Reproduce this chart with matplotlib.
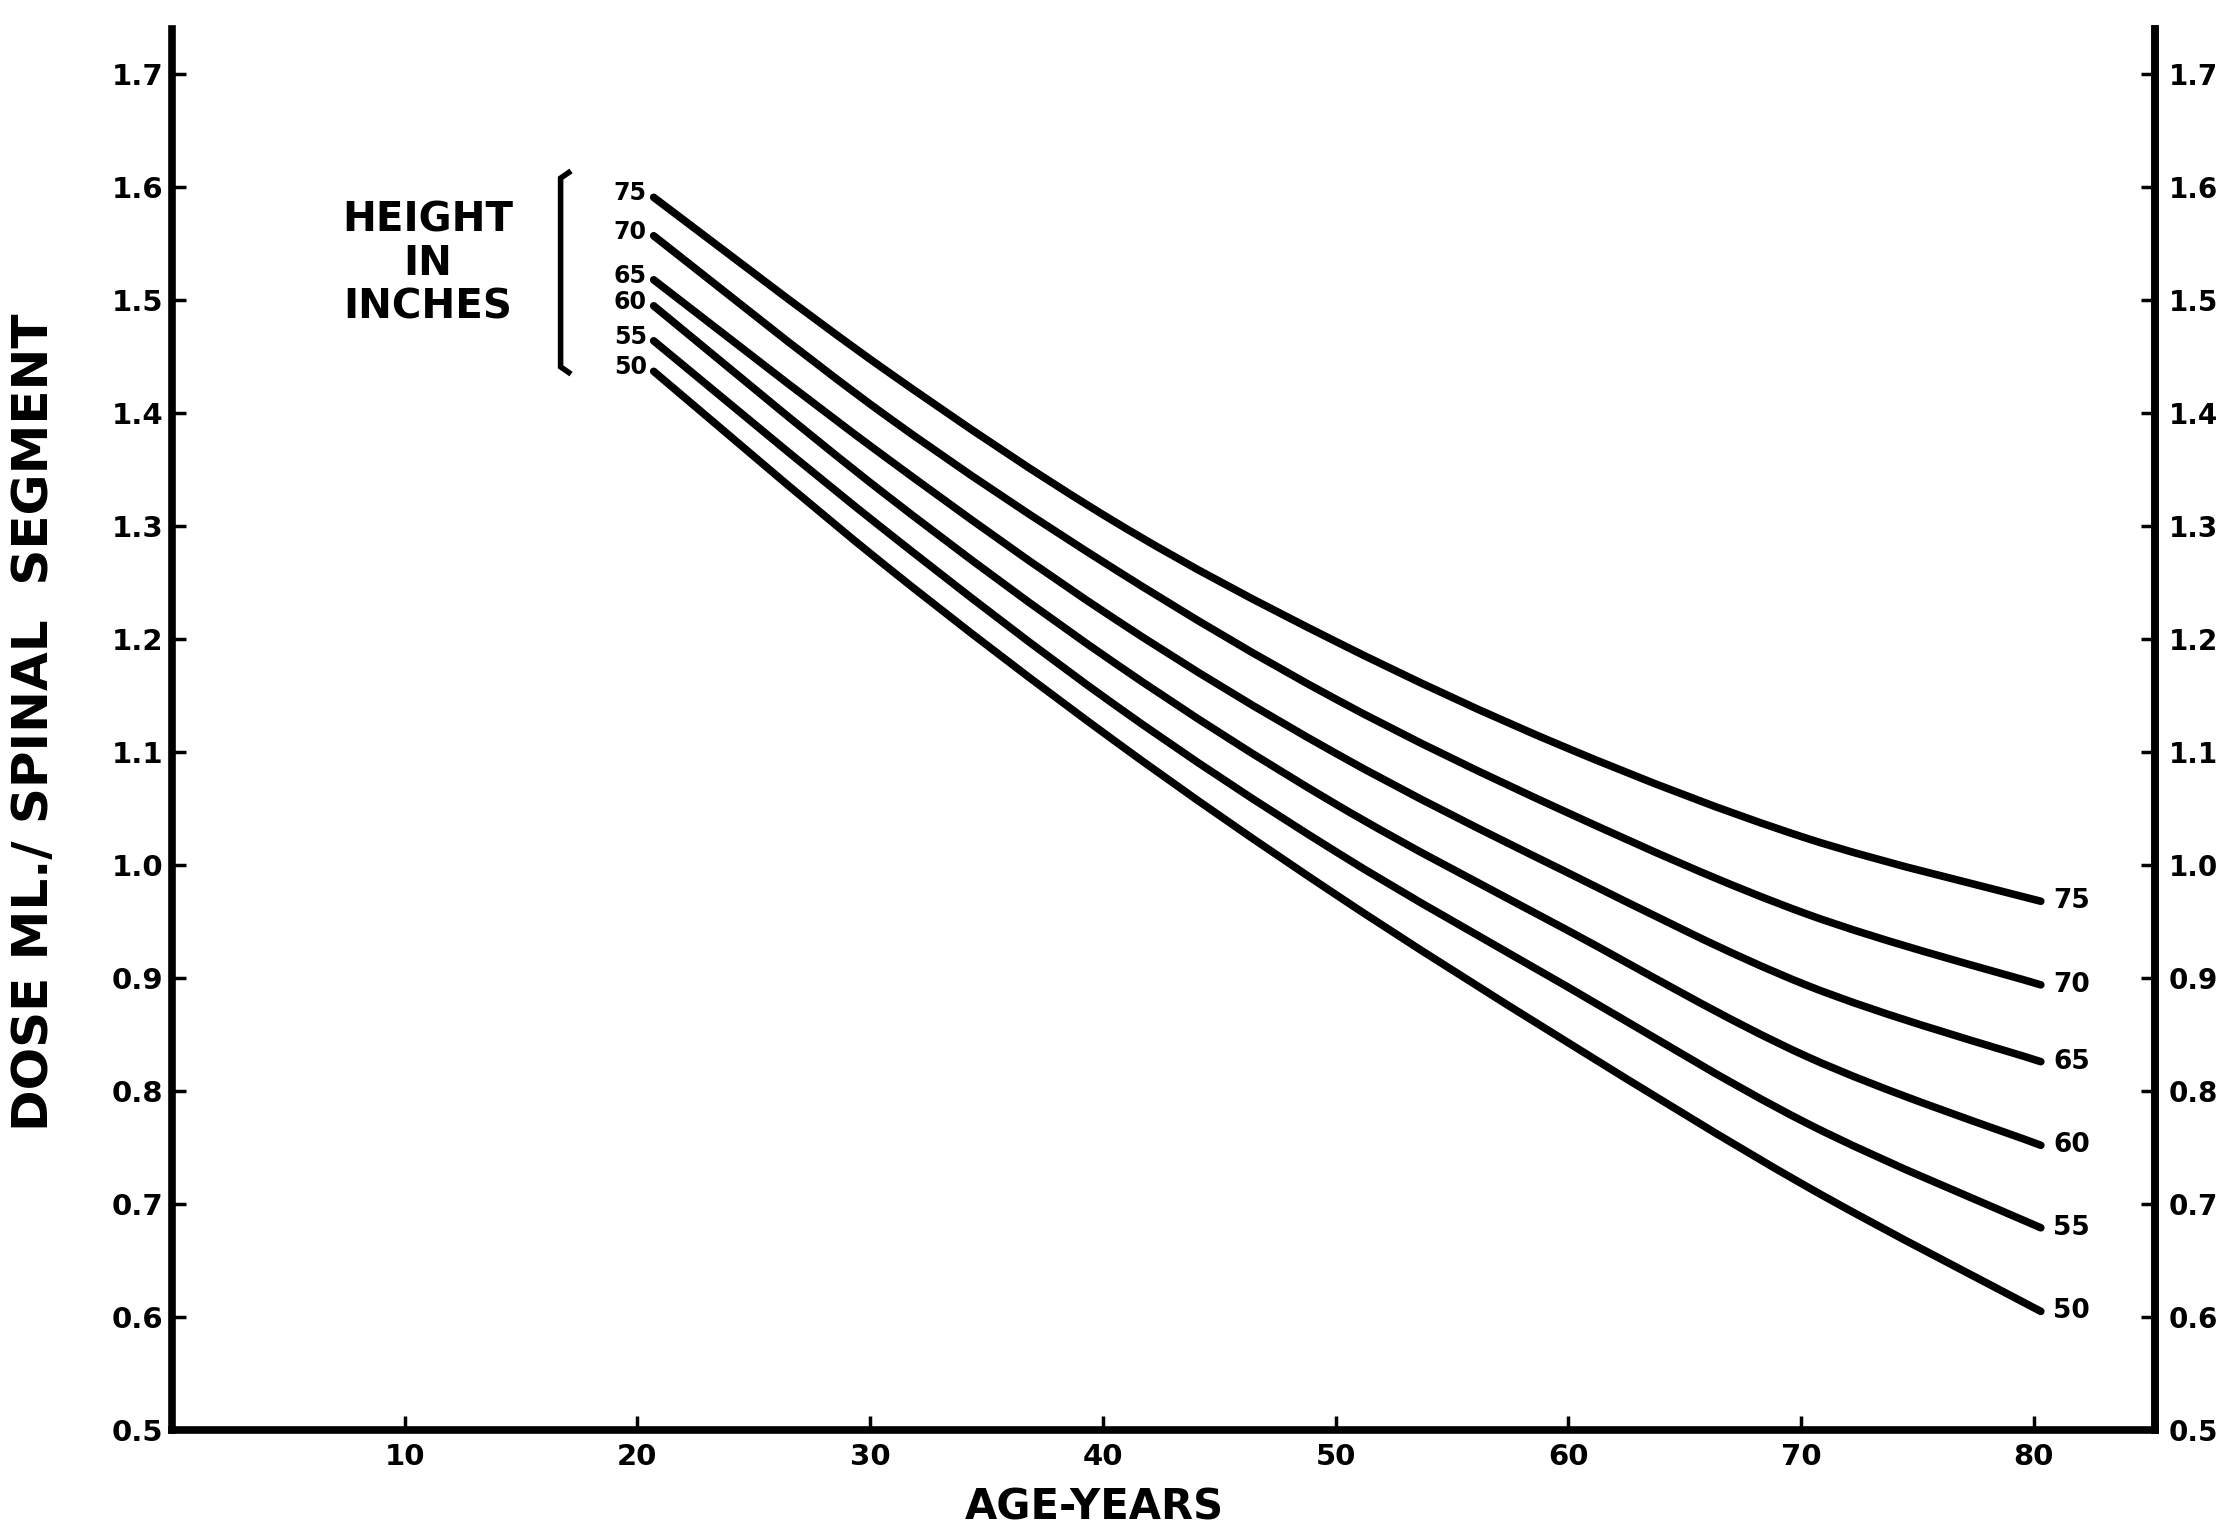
import matplotlib.pyplot as plt
from matplotlib.path import Path
from matplotlib.patches import PathPatch

plt.rcParams['font.family'] = ['DejaVu Sans']
plt.rcParams['font.weight'] = 'bold'

# age in years at which each curve was read
ages = [20.7, 30.6, 40.5, 50.0, 59.9, 70.2, 80.3]

# dose (ml per spinal segment) for each height in inches
dose_75 = [1.591, 1.439, 1.304, 1.198, 1.104, 1.024, 0.968]
dose_70 = [1.557, 1.399, 1.262, 1.147, 1.047, 0.957, 0.894]
dose_65 = [1.518, 1.362, 1.218, 1.099, 0.994, 0.894, 0.826]
dose_60 = [1.495, 1.329, 1.179, 1.054, 0.943, 0.831, 0.752]
dose_55 = [1.464, 1.297, 1.142, 1.012, 0.893, 0.772, 0.679]
dose_50 = [1.437, 1.266, 1.110, 0.974, 0.844, 0.716, 0.605]

heights = ['75', '70', '65', '60', '55', '50']
doses = [dose_75, dose_70, dose_65, dose_60, dose_55, dose_50]

x_ticks = [10, 20, 30, 40, 50, 60, 70, 80]
y_ticks = [0.5, 0.6, 0.7, 0.8, 0.9, 1.0, 1.1, 1.2, 1.3, 1.4, 1.5, 1.6, 1.7]


def smooth_path(xs, ys):
    # Catmull-Rom through the points, drawn as cubic Bezier segments
    n = len(xs)
    verts = [(xs[0], ys[0])]
    codes = [Path.MOVETO]
    for i in range(n - 1):
        a = max(i - 1, 0)
        b = min(i + 2, n - 1)
        c1 = (xs[i] + (xs[i + 1] - xs[a]) / 6, ys[i] + (ys[i + 1] - ys[a]) / 6)
        c2 = (xs[i + 1] - (xs[b] - xs[i]) / 6, ys[i + 1] - (ys[b] - ys[i]) / 6)
        verts += [c1, c2, (xs[i + 1], ys[i + 1])]
        codes += [Path.CURVE4] * 3
    return Path(verts, codes)


fig = plt.figure(figsize=(22.27, 15.35), dpi=100)
ax = fig.add_axes([0.0772, 0.0684, 0.8904, 0.9127])
ax.set_xlim(0, 85.2)
ax.set_ylim(0.5, 1.74)

for h, d in zip(heights, doses):
    ax.add_patch(PathPatch(smooth_path(ages, d), fill=False, edgecolor='black',
                           lw=5.5, capstyle='round', joinstyle='round'))
    ax.annotate(h, (ages[0], d[0]), xytext=(-5, 3), textcoords='offset points',
                ha='right', va='center', fontsize=17)
    ax.annotate(h, (ages[-1], d[-1]), xytext=(9, 0), textcoords='offset points',
                ha='left', va='center', fontsize=19)

# bracket grouping the height labels
bx = 16.7
ax.plot([bx + 0.35, bx, bx, bx + 0.35], [1.613, 1.608, 1.441, 1.436],
        color='black', lw=4, solid_joinstyle='miter')
ax.text(11.0, 1.532, 'HEIGHT\nIN\nINCHES', ha='center', va='center',
        fontsize=29, linespacing=1.1, multialignment='center')

for side in ['left', 'bottom', 'right']:
    ax.spines[side].set_linewidth(5.5)
ax.spines['top'].set_visible(False)

ax.set_xticks(x_ticks)
ax.set_xticklabels([str(t) for t in x_ticks])
ax.set_yticks(y_ticks)
ax.set_yticklabels(['%.1f' % t for t in y_ticks])
ax.tick_params(axis='both', direction='in', length=10, width=2.5, labelsize=21)
ax.tick_params(axis='x', pad=9)
ax.tick_params(axis='y', pad=6)

ax2 = ax.twinx()
ax2.set_ylim(ax.get_ylim())
ax2.set_yticks(y_ticks)
ax2.set_yticklabels(['%.1f' % t for t in y_ticks])
ax2.tick_params(axis='y', direction='in', length=10, width=2.5, labelsize=20, pad=10)
for side in ['left', 'bottom', 'top']:
    ax2.spines[side].set_visible(False)
ax2.spines['right'].set_linewidth(5.5)

ax.set_ylabel('DOSE ML./ SPINAL  SEGMENT', fontsize=36, fontweight='bold')
ax.yaxis.set_label_coords(-0.0575, 0.505)
ax.set_xlabel('AGE-YEARS', fontsize=30, fontweight='bold')
ax.xaxis.set_label_coords(0.465, -0.040)

fig.savefig('out.png', dpi=100, facecolor='white')
